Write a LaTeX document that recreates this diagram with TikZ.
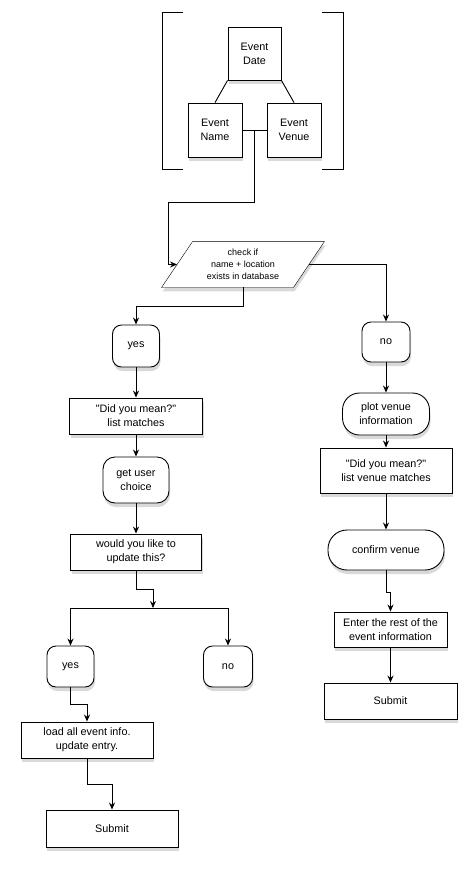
\documentclass[tikz,border=0pt]{standalone}
\usepackage{fontspec}
\setmainfont{Liberation Sans}[Ligatures=TeXOff]
\usetikzlibrary{arrows.meta,shadows,backgrounds}

\begin{document}
\begin{tikzpicture}[x=1pt, y=-1pt, line width=0.9pt, font=\fontsize{10.8}{14}\selectfont,
            >={Stealth[length=7pt,width=6pt]},
            boxshadow/.style={drop shadow={shadow xshift=1pt, shadow yshift=-4pt, opacity=0.3}}]
            \useasboundingbox (0,0) rectangle (476,871);
            % record: event date / name / venue
            \begin{scope}[every node/.style={draw,fill=white,boxshadow,align=center,inner sep=0pt,minimum width=54,minimum height=54}]
            \node (date) [minimum width=53,minimum height=53] at (254.5,53.5) {Event\\Date};
            \node (name) at (215,130) {Event\\Name};
            \node (venue) at (294,130) {Event\\Venue};
            \end{scope}
            \draw (183,12) -- (162,12) -- (162,169) -- (183,169);
            \draw (322,12) -- (343,12) -- (343,169) -- (322,169);
            \draw (date.south west) -- (name.north);
            \draw (date.south east) -- (venue.north);
            \coordinate (join) at (254,130);
            \draw (name.east) -- (venue.west);
            % database check
            \node (check) [align=center,inner sep=0pt,minimum width=131,minimum height=45,
                font=\fontsize{9}{12}\selectfont] at (243,264.5) {check if\\name + location\\exists in database};
            \begin{scope}[on background layer]
            \filldraw[fill=white,boxshadow] ([xshift=-15.5pt]check.south west) -- ([xshift=-15.5pt]check.south east)
                -- ([xshift=15.5pt]check.north east) -- ([xshift=15.5pt]check.north west) -- cycle;
            \end{scope}
            \coordinate (turn) at (168,202);
            \draw[->] (join) |- (turn) |- (check.west);
            % rectangular steps
            \begin{scope}[every node/.style={draw,fill=white,boxshadow,align=center,inner sep=0pt}]
            \node (mean1) [minimum width=133,minimum height=36] at (136,416) {"Did you mean?"\\list matches};
            \node (update) [minimum width=131,minimum height=36] at (136,552) {would you like to\\update this?};
            \node (load) [minimum width=132,minimum height=36] at (87,740) {load all event info.\\update entry.};
            \node (submit1) [minimum width=132,minimum height=37] at (112,828.5) {Submit};
            \node (mean2) [minimum width=132,minimum height=45] at (386,470.5) {"Did you mean?"\\list venue matches};
            \node (enter) [minimum width=113,minimum height=35] at (390.5,629.5) {Enter the rest of the\\event information};
            \node (submit2) [minimum width=133,minimum height=36] at (390.5,701) {Submit};
            \end{scope}
            % rounded steps
            \begin{scope}[every node/.style={draw,fill=white,boxshadow,align=center,inner sep=0pt,rounded corners=9pt}]
            \node (yes1) [minimum width=47,minimum height=42] at (136,346) {yes};
            \node (choice) [minimum width=66,minimum height=46,rounded corners=12pt] at (136,480) {get user\\choice};
            \node (yes2) [minimum width=47,minimum height=41] at (70.5,666.5) {yes};
            \node (no2) [minimum width=49,minimum height=41] at (228,666.5) {no};
            \node (no1) [minimum width=48,minimum height=40] at (386,342) {no};
            \node (plot) [minimum width=87,minimum height=42,rounded corners=17pt] at (386,414) {plot venue\\information};
            \node (confirm) [minimum width=116,minimum height=40,rounded corners=19pt] at (386,550) {confirm venue};
            \end{scope}
            % connectors
            \coordinate (split) at (153,608);
            \draw[->] (check.south) -- ++(0,19) -| (yes1.north);
            \draw[->] (check.east) -| (no1.north);
            \draw[->] (yes1) -- (mean1);
            \draw[->] (mean1) -- (choice);
            \draw[->] (choice) -- (update);
            \draw[->] (update.south) -- ++(0,19) -| (split);
            \draw[->] (split) -| (yes2.north);
            \draw[->] (split) -| (no2.north);
            \draw[->] (yes2.south) -- ++(0,17) -| (load.north);
            \draw[->] (load.south) -- ++(0,26) -| (submit1.north);
            \draw[->] (no1) -- (plot);
            \draw[->] (plot) -- (mean2);
            \draw[->] (mean2) -- (confirm);
            \draw[->] (confirm.south) -- ++(0,22) -| (enter.north);
            \draw[->] (enter) -- (submit2);
\end{tikzpicture}
\end{document}
